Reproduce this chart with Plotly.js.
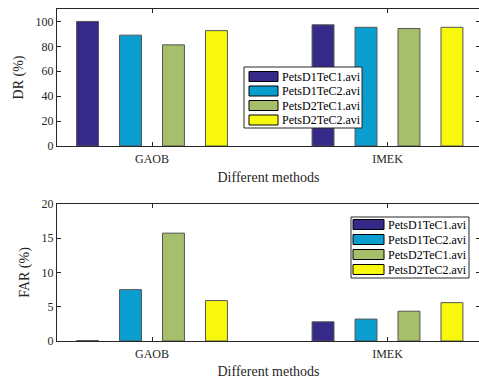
<!DOCTYPE html>
<html><head><meta charset="utf-8">
<script src="https://cdn.plot.ly/plotly-3.0.1.min.js"></script>
<style>html,body{margin:0;padding:0;overflow:hidden;background:#fff}#chart{width:481px;height:379px}</style>
</head><body><div id="chart"></div>
<script>
const methods = ['GAOB', 'IMEK'];
const videos = ['PetsD1TeC1.avi', 'PetsD1TeC2.avi', 'PetsD2TeC1.avi', 'PetsD2TeC2.avi'];
const colors = ['#352a87', '#0a9dd0', '#a5bf6b', '#f8f80c'];
const drValues = [
  [100, 97.3],
  [89, 95.3],
  [81.2, 94.3],
  [92.6, 95.3]
];
const farValues = [
  [0.05, 2.8],
  [7.5, 3.2],
  [15.75, 4.35],
  [5.9, 5.6]
];
const drTicks = [0, 20, 40, 60, 80, 100];
const farTicks = [0, 5, 10, 15, 20];

const FAM = 'Liberation Serif';
const traces = [];
videos.forEach((v, i) => {
  traces.push({type: 'bar', x: methods, y: drValues[i], name: v, xaxis: 'x', yaxis: 'y',
    showlegend: false, marker: {color: colors[i], line: {color: '#555555', width: 1}}});
});
videos.forEach((v, i) => {
  traces.push({type: 'bar', x: methods, y: farValues[i], name: v, xaxis: 'x2', yaxis: 'y2',
    showlegend: false, marker: {color: colors[i], line: {color: '#555555', width: 1}}});
});

const font = {family: FAM, size: 12, color: '#262626'};
const xr = [-0.4034, 1.3928];
function xax(anchor) {
  return {anchor: anchor, range: xr, type: 'category', showline: true, mirror: 'allticks',
    linecolor: '#262626', linewidth: 1, ticks: 'inside', ticklen: 4, tickcolor: '#262626',
    showgrid: false, zeroline: false, tickfont: font, automargin: false, ticklabelstandoff: 2,
    title: {text: 'Different methods', font: {family: FAM, size: 14, color: '#262626'}, standoff: 6}};
}
function yax(anchor, dom, range, ticks, title) {
  return {anchor: anchor, domain: dom, range: range, tickvals: ticks, showline: true, mirror: 'allticks',
    linecolor: '#262626', linewidth: 1, ticks: 'inside', ticklen: 4, tickcolor: '#262626',
    showgrid: false, zeroline: false, tickfont: font, automargin: false,
    title: {text: title, font: {family: FAM, size: 14, color: '#262626'}, standoff: 8}};
}

// custom MATLAB-style legends (pixel geometry -> paper coords)
const PX = p => (p - 57) / 423;
const PY = p => 1 - p / 379;
const shapes = [], annotations = [];
function addLegend(box, swX, txtX, rowY) {
  shapes.push({type: 'rect', xref: 'paper', yref: 'paper', x0: PX(box[0]), x1: PX(box[1]),
    y0: PY(box[3]), y1: PY(box[2]), fillcolor: '#ffffff', line: {color: '#262626', width: 1}, layer: 'above'});
  videos.forEach((v, i) => {
    shapes.push({type: 'rect', xref: 'paper', yref: 'paper', x0: PX(swX[0]), x1: PX(swX[1]),
      y0: PY(rowY[i] + 5), y1: PY(rowY[i] - 5), fillcolor: colors[i], line: {color: '#000', width: 1}, layer: 'above'});
    annotations.push({xref: 'paper', yref: 'paper', x: PX(txtX), y: PY(rowY[i]), xanchor: 'left', yanchor: 'middle',
      text: v, showarrow: false, font: {family: FAM, size: 12, color: '#000'}});
  });
}
addLegend([244, 362, 67, 128], [249, 278], 280, [76.5, 91, 105.5, 120]);
addLegend([351, 469, 217, 278], [353, 384], 386, [224.5, 239.5, 254.5, 269.5]);

const layout = {
  width: 481, height: 379,
  margin: {l: 57, r: 1, t: 0, b: 0},
  paper_bgcolor: '#fff', plot_bgcolor: '#fff',
  barmode: 'group', bargap: 0.27, bargroupgap: 0.49,
  font: font,
  xaxis: xax('y'),
  yaxis: yax('x', [0.6148, 0.9763], [0, 110], drTicks, 'DR (%)'),
  xaxis2: xax('y2'),
  yaxis2: yax('x2', [0.1003, 0.4617], [0, 20], farTicks, 'FAR (%)'),
  shapes: shapes, annotations: annotations,
  showlegend: false
};
Plotly.newPlot('chart', traces, layout, {staticPlot: true, displayModeBar: false});
</script></body></html>
